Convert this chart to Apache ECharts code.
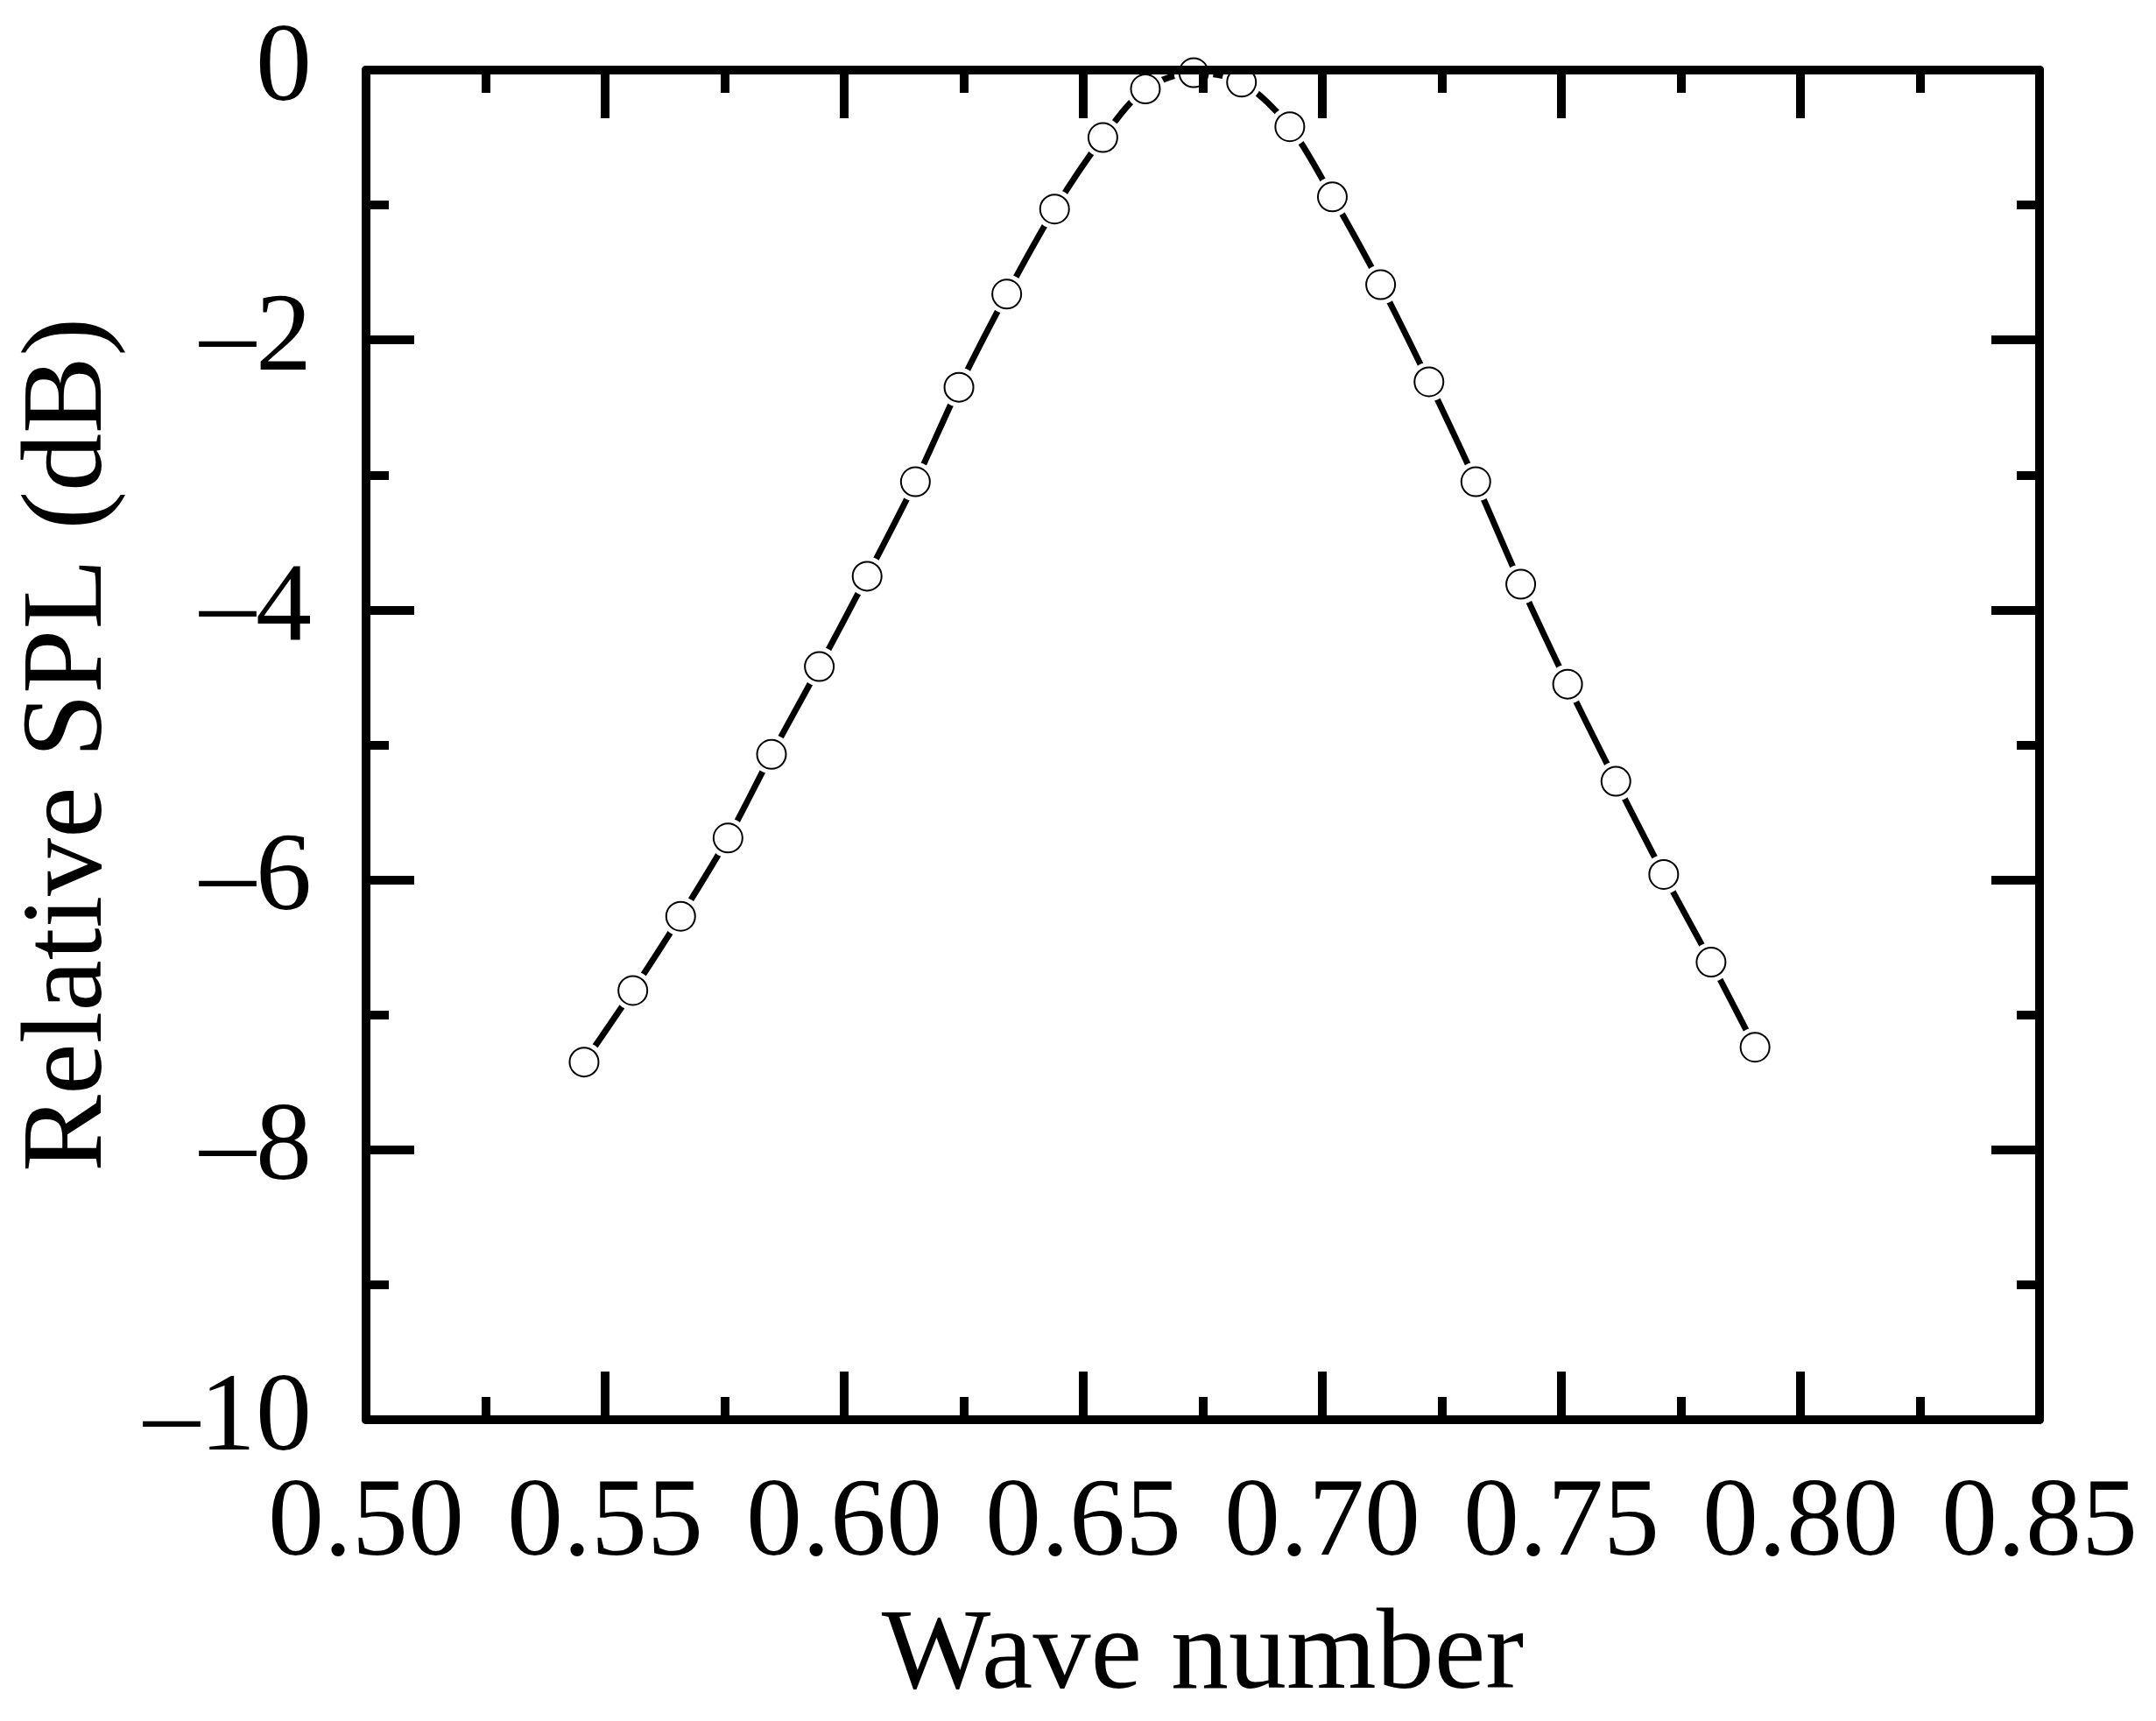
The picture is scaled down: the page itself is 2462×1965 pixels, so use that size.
<!DOCTYPE html>
<html>
<head>
<meta charset="utf-8">
<script src="https://cdn.jsdelivr.net/npm/echarts@6/dist/echarts.min.js"></script>
<style>
  html, body { margin: 0; padding: 0; background: #fff; }
  #chart { width: 2462px; height: 1965px; }
</style>
</head>
<body>
<div id="chart"></div>
<script>
// ---- data ----
var waveNumber = [0.5456, 0.5558, 0.5658, 0.5757, 0.5848, 0.5948, 0.6048, 0.6149, 0.6240, 0.6340,
                  0.6440, 0.6541, 0.6630, 0.6731, 0.6831, 0.6932, 0.7021, 0.7122, 0.7223, 0.7321,
                  0.7415, 0.7513, 0.7614, 0.7714, 0.7813, 0.7905];
var splDb = [-7.35, -6.82, -6.27, -5.69, -5.07, -4.42, -3.75, -3.05, -2.35, -1.66,
             -1.03, -0.50, -0.14, -0.02, -0.09, -0.42, -0.94, -1.59, -2.31, -3.05,
             -3.81, -4.55, -5.27, -5.96, -6.61, -7.24];
var xTicks = [0.50, 0.55, 0.60, 0.65, 0.70, 0.75, 0.80, 0.85];
var yTicks = [0, -2, -4, -6, -8, -10];
var xTitle = 'Wave number';
var yTitle = 'Relative SPL (dB)';

var points = waveNumber.map(function (x, i) { return [x, splDb[i]]; });

var FONT = "'Liberation Serif', 'Times New Roman', serif";
var AX_W = 10, TICK_W = 10;

function xAxisCfg(pos, showLabel) {
  return {
    type: 'value', position: pos, z: 10,
    min: xTicks[0], max: xTicks[xTicks.length - 1], interval: 0.05,
    axisLine: { show: true, onZero: false, lineStyle: { color: '#000', width: AX_W } },
    axisTick: { show: true, inside: true, length: 55, lineStyle: { color: '#000', width: TICK_W } },
    minorTick: { show: true, splitNumber: 2, length: 26, lineStyle: { color: '#000', width: TICK_W } },
    splitLine: { show: false },
    axisLabel: {
      show: showLabel, margin: 56, color: '#000', fontFamily: FONT, fontSize: 128,
      formatter: function (v) { return v.toFixed(2); }
    }
  };
}
function yAxisCfg(pos, showLabel) {
  return {
    type: 'value', position: pos, z: 10,
    min: yTicks[yTicks.length - 1], max: yTicks[0], interval: 2,
    axisLine: { show: true, onZero: false, lineStyle: { color: '#000', width: AX_W } },
    axisTick: { show: true, inside: true, length: 55, lineStyle: { color: '#000', width: TICK_W } },
    minorTick: { show: true, splitNumber: 2, length: 26, lineStyle: { color: '#000', width: TICK_W } },
    splitLine: { show: false },
    axisLabel: {
      show: showLabel, margin: 62, color: '#000', fontFamily: FONT, fontSize: 128,
      formatter: function (v) { return v < 0 ? '\u2013' + Math.abs(v) : String(v); }
    }
  };
}

var xb = xAxisCfg('bottom', true);
xb.name = xTitle; xb.nameLocation = 'middle'; xb.nameGap = 205;
xb.nameTextStyle = { color: '#000', fontFamily: FONT, fontSize: 132 };
var xt = xAxisCfg('top', false);

var yl = yAxisCfg('left', true);
yl.name = yTitle; yl.nameLocation = 'middle'; yl.nameGap = 272;
yl.nameTextStyle = { color: '#000', fontFamily: FONT, fontSize: 132 };
var yr = yAxisCfg('right', false);

var chart = echarts.init(document.getElementById('chart'), null, { renderer: 'canvas' });
chart.setOption({
  backgroundColor: '#fff',
  animation: false,
  grid: { left: 418, right: 133, top: 80, bottom: 344, containLabel: false },
  xAxis: [xb, xt],
  yAxis: [yl, yr],
  series: [
    {
      type: 'line', data: points, xAxisIndex: 0, yAxisIndex: 0,
      smooth: 0.3, showSymbol: false, symbol: 'none', clip: false,
      lineStyle: { color: '#000', width: 7 }, z: 2
    },
    {
      type: 'scatter', data: points, xAxisIndex: 0, yAxisIndex: 0,
      symbol: 'circle', symbolSize: 45, clip: false,
      itemStyle: { color: '#fff', borderWidth: 0, opacity: 1 }, z: 3, silent: true
    },
    {
      type: 'scatter', data: points, xAxisIndex: 0, yAxisIndex: 0,
      symbol: 'circle', symbolSize: 33, clip: false,
      itemStyle: { color: '#fff', borderColor: '#000', borderWidth: 2, opacity: 1 }, z: 4
    }
  ]
});
</script>
</body>
</html>
